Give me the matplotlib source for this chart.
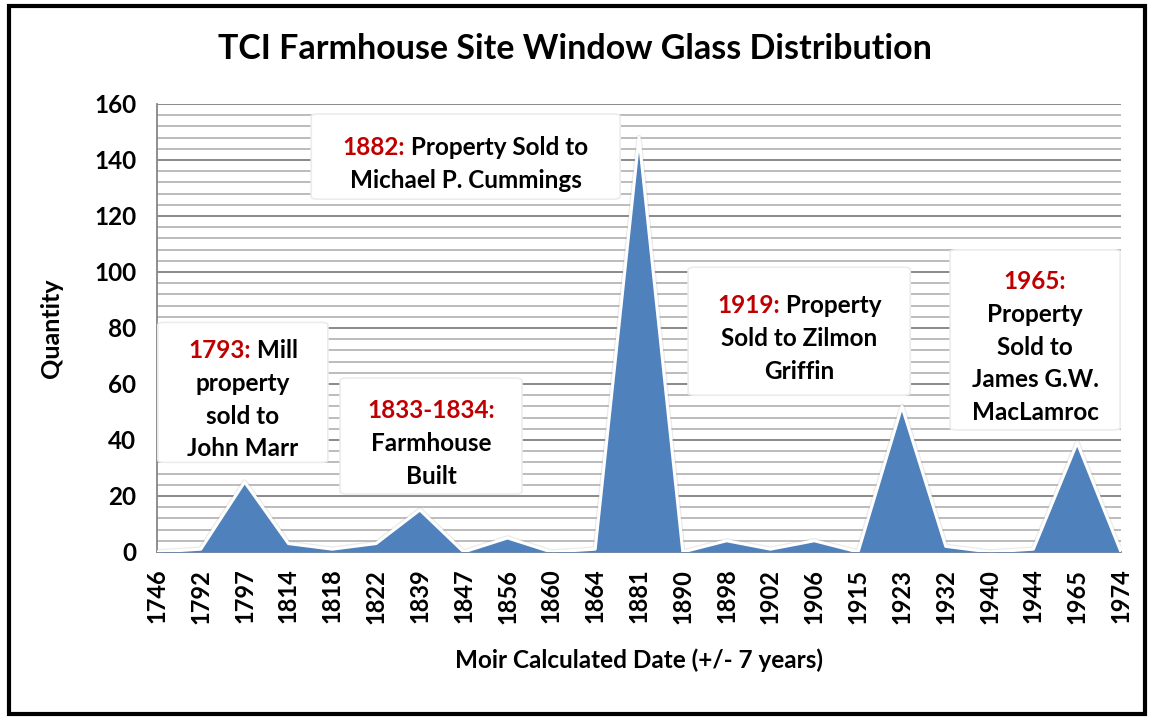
import matplotlib
matplotlib.use("Agg")
import matplotlib.pyplot as plt
import numpy as np
from matplotlib.patches import FancyBboxPatch, Rectangle
from matplotlib.offsetbox import TextArea, HPacker, VPacker, AnnotationBbox
from matplotlib.ticker import MultipleLocator

plt.rcParams['font.family'] = ['Lato', 'DejaVu Sans']
plt.rcParams['font.weight'] = 'bold'

# ── Data ─────────────────────────────────────────────────────────────────────
years = ['1746', '1792', '1797', '1814', '1818', '1822', '1839', '1847',
         '1856', '1860', '1864', '1881', '1890', '1898', '1902', '1906',
         '1915', '1923', '1932', '1940', '1944', '1965', '1974']
quantity = [0, 1, 25, 3, 1, 3, 15, 0, 5, 0, 1, 148, 0, 4, 1, 4, 0, 52, 2, 0, 1, 39, 0]

# annotation: (red part, first-line rest, other lines)
notes = [
    ("1793:", " Mill", ["property", "sold to", "John Marr"]),
    ("1833-1834:", "", ["Farmhouse", "Built"]),
    ("1882:", " Property Sold to", ["Michael P. Cummings"]),
    ("1919:", " Property", ["Sold to Zilmon", "Griffin"]),
    ("1965:", "", ["Property", "Sold to", "James G.W.", "MacLamroc"]),
]
# box geometry in data units: (x0, y0, width, height)
note_boxes = [
    (0.02, 32, 3.88, 50),
    (4.18, 20.7, 4.15, 41.4),
    (3.52, 126, 7.05, 30.4),
    (12.12, 56, 5.07, 45.7),
    (18.1, 43.6, 3.88, 64.3),
]

RED = "#C00000"
FILL = "#4F81BD"

# ── Plot ─────────────────────────────────────────────────────────────────────
fig = plt.figure(figsize=(11.5, 7.19), dpi=100)
ax = fig.add_axes([0.1365, 0.2323, 0.8383, 0.6231])

x = np.arange(len(years))
ax.fill_between(x, quantity, 0, color=FILL, lw=0, zorder=3)
ax.plot(x, quantity, color="#b0b0b0", lw=4, alpha=0.25, zorder=2.9,
        solid_joinstyle="round")
ax.plot(x, quantity, color="white", lw=2.2, zorder=3.1, solid_joinstyle="round")

ax.set_xlim(0, len(years) - 1)
ax.set_ylim(0, 160)
ax.yaxis.set_major_locator(MultipleLocator(20))
ax.yaxis.set_minor_locator(MultipleLocator(4))
ax.grid(which="major", axis="y", color="#808080", lw=1.3, zorder=1)
ax.grid(which="minor", axis="y", color="#a9a9a9", lw=1.1, zorder=1)
ax.set_axisbelow(True)

ax.set_xticks(x)
ax.set_xticklabels(years, rotation=90, fontsize=17, fontweight="bold")
ax.tick_params(axis="both", which="both", length=0)
ax.tick_params(axis="x", pad=12)
ax.tick_params(axis="y", labelsize=17.5, pad=15)
for lbl in ax.get_yticklabels():
    lbl.set_fontweight("bold")

for side in ("top", "right"):
    ax.spines[side].set_visible(False)
for side in ("left", "bottom"):
    ax.spines[side].set_color("#868686")
    ax.spines[side].set_linewidth(1.3)

ax.set_ylabel("Quantity", fontsize=18, fontweight="bold", labelpad=22)
ax.set_xlabel("Moir Calculated Date (+/- 7 years)", fontsize=17.5,
              fontweight="bold", labelpad=18)
fig.text(0.5, 0.932, "TCI Farmhouse Site Window Glass Distribution",
         ha="center", va="center", fontsize=24.5, fontweight="bold")

# ── Annotation boxes ─────────────────────────────────────────────────────────
for (red, rest, lines), (bx, by, bw, bh) in zip(notes, note_boxes):
    ax.add_patch(FancyBboxPatch((bx, by), bw, bh,
                                boxstyle="round,pad=0,rounding_size=0.15",
                                mutation_aspect=6, fc="white", ec="#ececec",
                                lw=1.2, zorder=5))
    style = dict(fontsize=17.5, fontweight="bold")
    first = [TextArea(red, textprops=dict(color=RED, **style))]
    if rest:
        first.append(TextArea(rest, textprops=dict(color="black", **style)))
    rows = [HPacker(children=first, align="baseline", pad=0, sep=0)]
    rows += [TextArea(t, textprops=dict(color="black", **style)) for t in lines]
    pack = VPacker(children=rows, align="center", pad=0, sep=7)
    ab = AnnotationBbox(pack, (bx + bw / 2, by + bh / 2 - 2.6), frameon=False,
                        box_alignment=(0.5, 0.5), zorder=6)
    ax.add_artist(ab)

# ── Outer frame ──────────────────────────────────────────────────────────────
fig.patches.append(Rectangle((0.008, 0.007), 0.988, 0.985, transform=fig.transFigure,
                             fill=False, ec="black", lw=3, zorder=10))

fig.savefig("out.png", dpi=100)
